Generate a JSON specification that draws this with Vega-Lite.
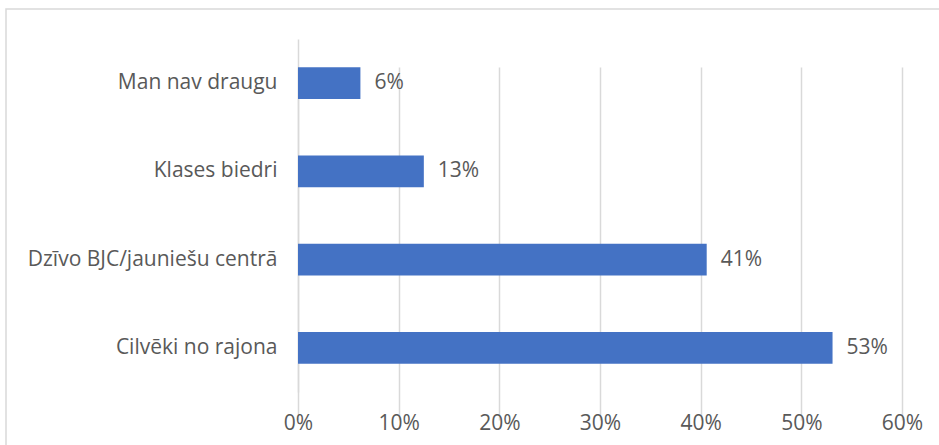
{
  "$schema": "https://vega.github.io/schema/vega-lite/v6.json",
  "width": 939,
  "height": 441,
  "autosize": {"type": "none"},
  "padding": {"left": 6, "top": 9, "right": -6, "bottom": -5},
  "background": "white",
  "config": {
    "view": {"stroke": "#d9d9d9", "strokeWidth": 1.5},
    "font": "Open Sans"
  },
  "data": {
    "values": [
      {"cat": "Man nav draugu", "v": 0.062, "label": "6%"},
      {"cat": "Klases biedri", "v": 0.125, "label": "13%"},
      {"cat": "Dzīvo BJC/jauniešu centrā", "v": 0.406, "label": "41%"},
      {"cat": "Cilvēki no rajona", "v": 0.531, "label": "53%"}
    ]
  },
  "encoding": {
    "y": {
      "field": "cat",
      "type": "nominal",
      "sort": null,
      "scale": {"range": [30, 383], "paddingInner": 0.64, "paddingOuter": 0.32},
      "axis": {
        "title": null,
        "offset": -292,
        "domain": true,
        "domainColor": "#d9d9d9",
        "domainWidth": 1.5,
        "ticks": false,
        "labelFontSize": 21,
        "labelColor": "#595959",
        "labelPadding": 21,
        "labelLimit": 300
      }
    },
    "x": {
      "field": "v",
      "type": "quantitative",
      "scale": {"domain": [0, 0.6], "nice": false, "range": [292, 896]},
      "axis": {
        "title": null,
        "offset": -58,
        "format": ".0%",
        "values": [0, 0.1, 0.2, 0.3, 0.4, 0.5, 0.6],
        "domain": false,
        "ticks": false,
        "grid": true,
        "gridColor": "#d9d9d9",
        "gridWidth": 1.5,
        "labelFlush": false,
        "labelFontSize": 21,
        "labelColor": "#595959",
        "labelPadding": 20
      }
    }
  },
  "layer": [
    {"mark": {"type": "bar", "color": "#4472C4"}},
    {
      "mark": {"type": "text", "align": "left", "dx": 14, "fontSize": 21, "color": "#595959"},
      "encoding": {"text": {"field": "label"}}
    }
  ]
}
